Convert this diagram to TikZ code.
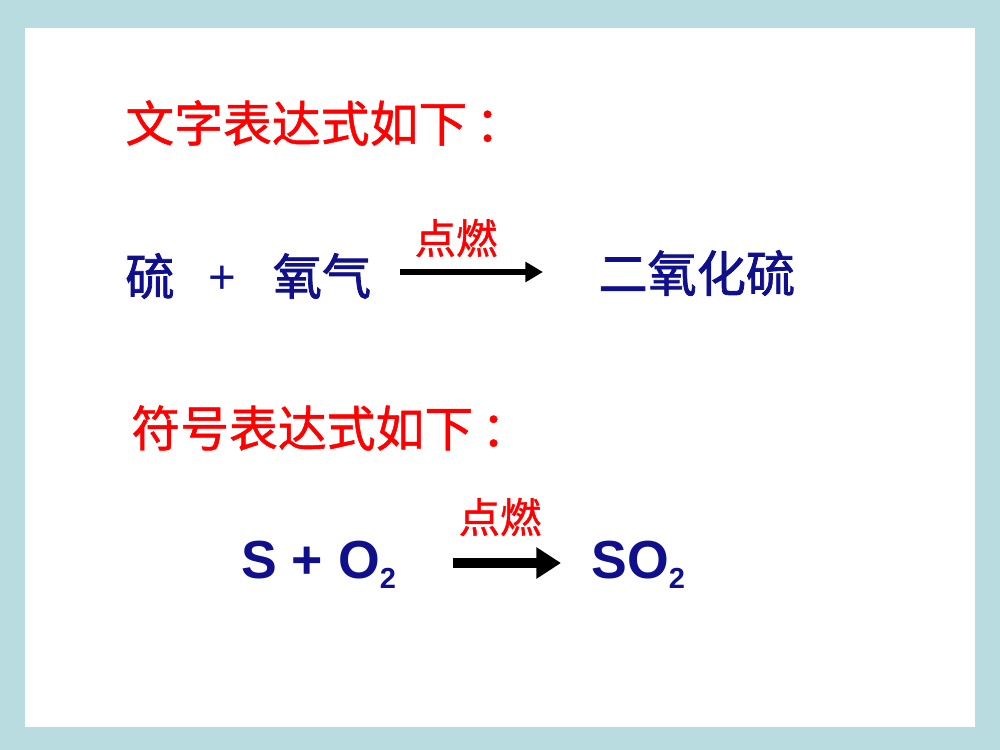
\documentclass[tikz,border=0pt]{standalone}
\usepackage{fontspec}
\setmainfont{Liberation Sans}
\newfontfamily\arialb{Liberation Sans Bold}
\newfontfamily\cjk[FakeBold=1]{Noto Sans CJK SC}
\newfontfamily\cjkb[FakeBold=1.6]{Noto Sans CJK SC}
\usetikzlibrary{arrows.meta}
\definecolor{frame}{HTML}{B8DCE0}
\definecolor{navy}{HTML}{10108C}
\tikzset{
	title/.style={anchor=west,text=red,inner sep=0pt,font=\cjk\fontsize{27.8}{30}\selectfont},
	word/.style={text=navy,inner sep=0pt,font=\cjkb\fontsize{28}{30}\selectfont},
	fire/.style={text=red,inner sep=0pt,font=\cjk\fontsize{23.5}{26}\selectfont},
	formula/.style={anchor=west,text=navy,inner sep=0pt,font=\arialb\fontsize{30.5}{34}\selectfont}
}
\newcommand{\sub}[1]{\raisebox{-6pt}{\fontsize{16.5}{20}\selectfont #1}}
\begin{document}
\begin{tikzpicture}[x=0.02cm,y=-0.02cm]
	\fill[frame] (0,0) rectangle (1000,750);
	\fill[white] (25,28) rectangle (975,727);
	% word equation
	\node[title] (t1) at (125,123) {文字表达式如下\,：};
	\node[word] (s) at (150,276) {硫};
	\node[word,font=\fontsize{27}{30}\selectfont] (plus) at (222,280) {+};
	\node[word] (o) at (322,276) {氧气};
	\node[word,anchor=west] (so) at (598,273) {二氧化硫};
	\coordinate (a1) at (400,272);
	\coordinate (b1) at (543,272);
	\draw[-{Triangle[length=10pt,width=11pt]},line width=3.4pt] (a1)--(b1);
	\node[fire] (f1) at (456,238) {点燃};
	% symbol equation
	\node[title] (t2) at (131,428) {符号表达式如下\,：};
	\node[formula] (lhs) at (241,565) {S + O\sub{2}};
	\node[formula] (rhs) at (591,565) {SO\sub{2}};
	\coordinate (a2) at (453,563);
	\coordinate (b2) at (561,563);
	\draw[-{Triangle[length=14pt,width=17pt]},line width=5.5pt] (a2)--(b2);
	\node[fire] (f2) at (500,517) {点燃};
\end{tikzpicture}
\end{document}
